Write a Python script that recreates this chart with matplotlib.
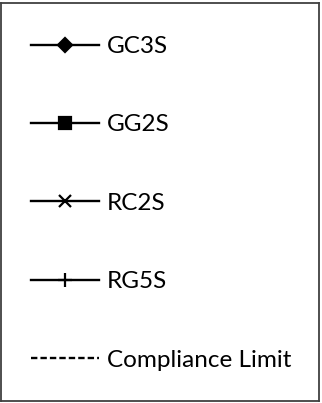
import matplotlib.pyplot as plt
from matplotlib.lines import Line2D

# legend entries
labels = ["GC3S", "GG2S", "RC2S", "RG5S", "Compliance Limit"]
markers = ["D", "s", "x", "+", None]
styles = ["-", "-", "-", "-", "--"]
msizes = [7, 8, 8, 10, 0]

plt.rcParams['font.family'] = ['Lato', 'DejaVu Sans']

fig = plt.figure(figsize=(3.22, 4.03), dpi=100)
# the axes box is the legend border
ax = fig.add_axes([1 / 322, 2 / 403, 318 / 322, 398 / 403])
ax.set_xticks([])
ax.set_yticks([])
for sp in ax.spines.values():
    sp.set_color("#404040")
    sp.set_linewidth(1.3)

handles = []
for lab, mk, ls, ms in zip(labels, markers, styles, msizes):
    h = Line2D([], [], color="black", lw=1.7, ls=ls, marker=mk, markersize=ms,
               markeredgewidth=1.6, label=lab)
    if ls == "--":
        h.set_dashes((2.7, 1.3))
    handles.append(h)

leg = ax.legend(handles=handles, loc="upper left",
                bbox_to_anchor=(31 / 322, 1 - 36 / 403),
                bbox_transform=fig.transFigure, fontsize=17.5, frameon=False,
                handlelength=2.8, handletextpad=0.33, labelspacing=2.36,
                borderpad=0, borderaxespad=0)

fig.savefig("out.png", dpi=100)
